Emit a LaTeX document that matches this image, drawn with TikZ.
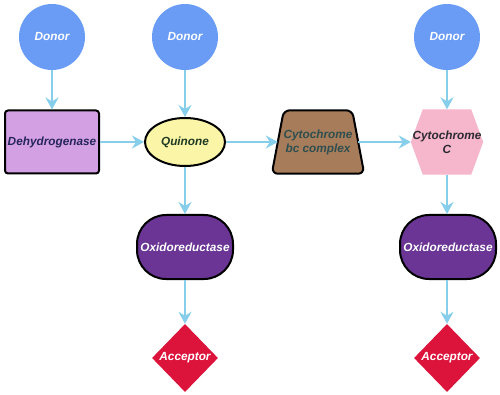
\documentclass[tikz,border=0pt]{standalone}
\usepackage{fontspec}
\setmainfont{Liberation Sans}
\usetikzlibrary{shapes.geometric,shapes.misc,arrows.meta,backgrounds}
\definecolor{donorc}{HTML}{6A9CF6}
\definecolor{dehyc}{HTML}{D4A0E4}
\definecolor{quinc}{HTML}{FBF5A7}
\definecolor{bcc}{HTML}{A67C5B}
\definecolor{cytc}{HTML}{F6B6CC}
\definecolor{oxc}{HTML}{6A3595}
\definecolor{accc}{HTML}{DC143C}
\definecolor{arrc}{HTML}{87CEEB}
\definecolor{dehytext}{HTML}{25255A}
\definecolor{quintext}{HTML}{1E3A22}
\definecolor{bctext}{HTML}{2F4F4F}
\definecolor{cyttext}{HTML}{2A2A30}
\begin{document}
\begin{tikzpicture}[x=1pt,y=-1pt,
  every node/.style={font=\fontsize{11.8}{14}\selectfont\bfseries\itshape, align=center, inner sep=0pt},
  donor/.style={circle, fill=donorc, minimum size=66pt, text=white},
  dehy/.style={rectangle, rounded corners=3pt, draw=black, line width=2pt, fill=dehyc, minimum width=94pt, minimum height=63pt, text=dehytext},
  quin/.style={ellipse, draw=black, line width=2pt, fill=quinc, minimum width=80pt, minimum height=48pt, text=quintext},
  bcbox/.style={rectangle, minimum width=92pt, minimum height=63pt, text=bctext},
  cytbox/.style={rectangle, minimum width=72pt, minimum height=65pt, text=cyttext},
  oxbox/.style={rectangle, rounded corners=29pt, draw=black, line width=2pt, fill=oxc, minimum width=96pt, minimum height=64pt, text=white},
  accbox/.style={diamond, fill=accc, minimum width=66pt, minimum height=68pt, text=white},
  conn/.style={draw=arrc, line width=2.4pt, -{Stealth[length=12pt,width=13pt,inset=4pt]}}
]
\useasboundingbox (0,0) rectangle (500,395);
\node[donor] (d1) at (52,37) {Donor};
\node[donor] (d2) at (185,37) {Donor};
\node[donor] (d3) at (447,37) {Donor};
\node[dehy] (dh) at (52,142) {Dehydrogenase};
\node[quin] (q) at (185,142) {Quinone};
\node[bcbox] (bc) at (318,142) {Cytochrome\\bc complex};
\node[cytbox] (hc) at (447,142) {Cytochrome\\C};
\begin{scope}[on background layer]
\filldraw[fill=bcc, draw=black, line width=2pt, rounded corners=6pt]
  (bc.south west) -- ([xshift=12pt]bc.north west) -- ([xshift=-12pt]bc.north east) -- (bc.south east) -- cycle;
\fill[cytc] (hc.west) -- ([xshift=12pt]hc.north west) -- ([xshift=-12pt]hc.north east) -- (hc.east) -- ([xshift=-12pt]hc.south east) -- ([xshift=12pt]hc.south west) -- cycle;
\end{scope}
\node[oxbox] (o1) at (185,247) {Oxidoreductase};
\node[oxbox] (o2) at (448,247) {Oxidoreductase};
\node[accbox] (a1) at (185,358) {Acceptor};
\node[accbox] (a2) at (447,358) {Acceptor};
\draw[conn] (d1) -- (dh);
\draw[conn] (d2) -- (q);
\draw[conn] (d3) -- (hc);
\draw[conn] (dh) -- (q);
\draw[conn] (q) -- ([xshift=6pt]bc.west);
\draw[conn] ([xshift=-6pt]bc.east) -- (hc);
\draw[conn] (q) -- (o1);
\draw[conn] (hc.south) -- (hc.south |- o1.north);
\draw[conn] (o1) -- (a1);
\draw[conn] (o2.south -| a2.north) -- (a2);
\end{tikzpicture}
\end{document}
